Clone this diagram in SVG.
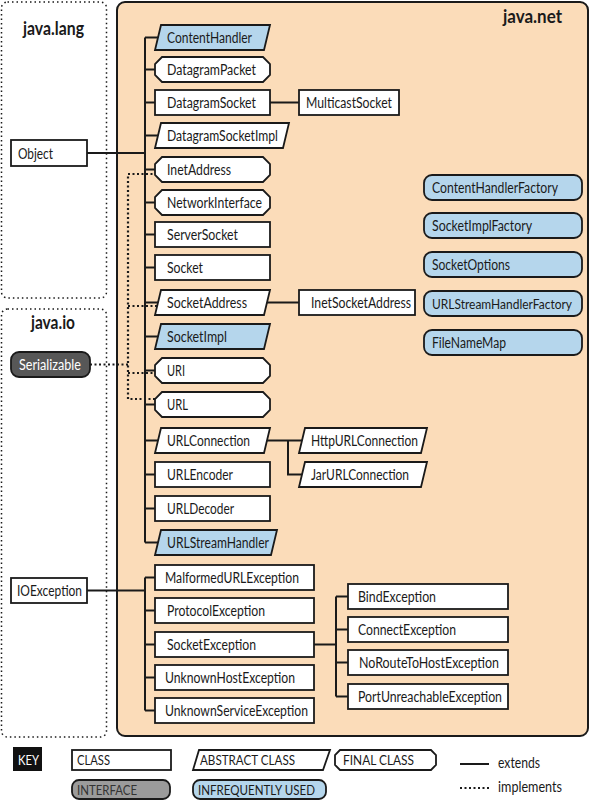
<svg xmlns="http://www.w3.org/2000/svg" width="591" height="800" viewBox="0 0 591 800">
<style>
.n{fill:#fff;stroke:#1a1a1a;stroke-width:1.8}
.b{fill:#b5d6ec;stroke:#1a1a1a;stroke-width:1.8}
.t{font-family:Lato,"Liberation Sans",sans-serif;font-size:14.5px;fill:#1a1a1a}
.k{font-family:Lato,"Liberation Sans",sans-serif;font-size:13.5px;fill:#1a1a1a}
.h{font-family:Lato,"Liberation Sans",sans-serif;font-size:18px;font-weight:bold;fill:#1a1a1a}
.ext{stroke:#1a1a1a;stroke-width:2;fill:none}
.impl{stroke:#1a1a1a;stroke-width:2.2;stroke-dasharray:2 2.5;fill:none}
.pkg{fill:none;stroke:#1a1a1a;stroke-width:1.5;stroke-dasharray:1.5 3}
</style>
<!-- packages -->
<rect class="pkg" x="1.5" y="2" width="105" height="296" rx="6"/>
<rect class="pkg" x="1.5" y="309" width="105" height="428" rx="6"/>
<rect x="117" y="2" width="471" height="734" rx="8" fill="#fbdcb9" stroke="#1a1a1a" stroke-width="2"/>
<text class="h" x="23" y="35" textLength="61" lengthAdjust="spacingAndGlyphs">java.lang</text>
<text class="h" x="31" y="329" textLength="44" lengthAdjust="spacingAndGlyphs">java.io</text>
<text class="h" x="503" y="23" textLength="59" lengthAdjust="spacingAndGlyphs">java.net</text>

<g id="connectors">
<path class="ext" d="M87,153 H145 M145,37.5 V542.5 M145,37.5 H160 M145,69.5 H160 M145,102.5 H160 M145,135.5 H160 M145,169.5 H160 M145,202.5 H160 M145,234.5 H160 M145,267.5 H160 M145,302.5 H160 M145,336.5 H160 M145,370.5 H160 M145,404.5 H160 M145,440.5 H160 M145,474.5 H160 M145,508.5 H160 M145,542.5 H160"/>
<path class="ext" d="M268,102.5 H301 M266,302.5 H301 M266,440.5 H304 M288,440.5 V474.5 H304"/>
<path class="ext" d="M87,590.5 H145 M145,577.5 V710.5 M145,577.5 H160 M145,610.5 H160 M145,644.5 H160 M145,677.5 H160 M145,710.5 H160"/>
<path class="ext" d="M312,644.5 H336 M336,596.5 V696.5 M336,596.5 H350 M336,629.5 H350 M336,662.5 H350 M336,696.5 H350"/>
<path class="impl" d="M90,364.5 H128 M157,174 H128 V399 H157 M128,306 H157 M128,373 H157"/>
</g>

<g id="Object"><rect class="n" x="11" y="140" width="76" height="26"/><text class="t" x="18" y="158.5" textLength="35" lengthAdjust="spacingAndGlyphs">Object</text></g>
<g id="IOException"><rect class="n" x="11" y="578" width="76" height="25"/><text class="t" x="17" y="596" textLength="65" lengthAdjust="spacingAndGlyphs">IOException</text></g>
<g id="Serializable"><rect x="11" y="352" width="79" height="25" rx="8" fill="#575757" stroke="#1a1a1a" stroke-width="1.8"/><text class="t" x="19" y="370" textLength="62" lengthAdjust="spacingAndGlyphs" style="fill:#fff">Serializable</text></g>

<g id="ContentHandler"><polygon class="b" points="161,25 270,25 264,50 155,50"/><text class="t" x="167" y="43" textLength="85" lengthAdjust="spacingAndGlyphs">ContentHandler</text></g>
<g id="DatagramPacket"><polygon class="n" points="162,57 263,57 270,64 270,75 263,82 162,82 155,75 155,64"/><text class="t" x="167" y="75" textLength="89" lengthAdjust="spacingAndGlyphs">DatagramPacket</text></g>
<g id="DatagramSocket"><rect class="n" x="155" y="90" width="115" height="25"/><text class="t" x="167" y="108" textLength="89" lengthAdjust="spacingAndGlyphs">DatagramSocket</text></g>
<g id="DatagramSocketImpl"><polygon class="n" points="161,123 289,123 283,148 155,148"/><text class="t" x="167" y="141" textLength="111" lengthAdjust="spacingAndGlyphs">DatagramSocketImpl</text></g>
<g id="InetAddress"><polygon class="n" points="162,157 263,157 270,164 270,175 263,182 162,182 155,175 155,164"/><text class="t" x="167" y="175" textLength="64" lengthAdjust="spacingAndGlyphs">InetAddress</text></g>
<g id="NetworkInterface"><polygon class="n" points="162,190 263,190 270,197 270,208 263,215 162,215 155,208 155,197"/><text class="t" x="167" y="208" textLength="95" lengthAdjust="spacingAndGlyphs">NetworkInterface</text></g>
<g id="ServerSocket"><rect class="n" x="155" y="222" width="115" height="25"/><text class="t" x="167" y="240" textLength="71" lengthAdjust="spacingAndGlyphs">ServerSocket</text></g>
<g id="Socket"><rect class="n" x="155" y="255" width="115" height="25"/><text class="t" x="167" y="273" textLength="36" lengthAdjust="spacingAndGlyphs">Socket</text></g>
<g id="SocketAddress"><polygon class="n" points="161,290 270,290 264,315 155,315"/><text class="t" x="167" y="308" textLength="80" lengthAdjust="spacingAndGlyphs">SocketAddress</text></g>
<g id="SocketImpl"><polygon class="b" points="161,324 270,324 264,349 155,349"/><text class="t" x="167" y="342" textLength="60" lengthAdjust="spacingAndGlyphs">SocketImpl</text></g>
<g id="URI"><polygon class="n" points="162,358 263,358 270,365 270,376 263,383 162,383 155,376 155,365"/><text class="t" x="167" y="376" textLength="18" lengthAdjust="spacingAndGlyphs">URI</text></g>
<g id="URL"><polygon class="n" points="162,392 263,392 270,399 270,410 263,417 162,417 155,410 155,399"/><text class="t" x="167" y="410" textLength="21" lengthAdjust="spacingAndGlyphs">URL</text></g>
<g id="URLConnection"><polygon class="n" points="161,428 270,428 264,453 155,453"/><text class="t" x="167" y="446" textLength="83" lengthAdjust="spacingAndGlyphs">URLConnection</text></g>
<g id="URLEncoder"><rect class="n" x="155" y="462" width="115" height="25"/><text class="t" x="167" y="480" textLength="66" lengthAdjust="spacingAndGlyphs">URLEncoder</text></g>
<g id="URLDecoder"><rect class="n" x="155" y="496" width="115" height="25"/><text class="t" x="167" y="514" textLength="67" lengthAdjust="spacingAndGlyphs">URLDecoder</text></g>
<g id="URLStreamHandler"><polygon class="b" points="161,530 277,530 271,555 155,555"/><text class="t" x="167" y="548" textLength="102" lengthAdjust="spacingAndGlyphs">URLStreamHandler</text></g>

<g id="MulticastSocket"><rect class="n" x="299" y="90" width="100" height="25"/><text class="t" x="306" y="108" textLength="86" lengthAdjust="spacingAndGlyphs">MulticastSocket</text></g>
<g id="InetSocketAddress"><rect class="n" x="299" y="290" width="116" height="25"/><text class="t" x="311" y="308" textLength="100" lengthAdjust="spacingAndGlyphs">InetSocketAddress</text></g>
<g id="HttpURLConnection"><polygon class="n" points="305,428 427,428 421,453 299,453"/><text class="t" x="311" y="446" textLength="107" lengthAdjust="spacingAndGlyphs">HttpURLConnection</text></g>
<g id="JarURLConnection"><polygon class="n" points="305,462 427,462 421,487 299,487"/><text class="t" x="311" y="480" textLength="98" lengthAdjust="spacingAndGlyphs">JarURLConnection</text></g>

<g id="ContentHandlerFactory"><rect class="b" x="424" y="175" width="158" height="25" rx="8"/><text class="t" x="432" y="193" textLength="126" lengthAdjust="spacingAndGlyphs">ContentHandlerFactory</text></g>
<g id="SocketImplFactory"><rect class="b" x="424" y="213" width="158" height="25" rx="8"/><text class="t" x="432" y="231" textLength="100" lengthAdjust="spacingAndGlyphs">SocketImplFactory</text></g>
<g id="SocketOptions"><rect class="b" x="424" y="252" width="158" height="25" rx="8"/><text class="t" x="432" y="270" textLength="78" lengthAdjust="spacingAndGlyphs">SocketOptions</text></g>
<g id="URLStreamHandlerFactory"><rect class="b" x="424" y="291" width="158" height="25" rx="8"/><text class="t" x="432" y="308.5" textLength="140" lengthAdjust="spacingAndGlyphs" style="font-size:12.5px">URLStreamHandlerFactory</text></g>
<g id="FileNameMap"><rect class="b" x="424" y="330" width="158" height="25" rx="8"/><text class="t" x="432" y="348" textLength="74" lengthAdjust="spacingAndGlyphs">FileNameMap</text></g>

<g id="MalformedURLException"><rect class="n" x="155" y="565" width="159" height="25"/><text class="t" x="165" y="583" textLength="134" lengthAdjust="spacingAndGlyphs">MalformedURLException</text></g>
<g id="ProtocolException"><rect class="n" x="155" y="598" width="159" height="25"/><text class="t" x="167" y="616" textLength="98" lengthAdjust="spacingAndGlyphs">ProtocolException</text></g>
<g id="SocketException"><rect class="n" x="155" y="632" width="159" height="25"/><text class="t" x="167" y="650" textLength="89" lengthAdjust="spacingAndGlyphs">SocketException</text></g>
<g id="UnknownHostException"><rect class="n" x="155" y="665" width="159" height="25"/><text class="t" x="165" y="683" textLength="130" lengthAdjust="spacingAndGlyphs">UnknownHostException</text></g>
<g id="UnknownServiceException"><rect class="n" x="155" y="698" width="159" height="25"/><text class="t" x="165" y="716" textLength="143" lengthAdjust="spacingAndGlyphs">UnknownServiceException</text></g>

<g id="BindException"><rect class="n" x="348" y="584" width="160" height="25"/><text class="t" x="358" y="602" textLength="78" lengthAdjust="spacingAndGlyphs">BindException</text></g>
<g id="ConnectException"><rect class="n" x="348" y="617" width="160" height="25"/><text class="t" x="358" y="635" textLength="98" lengthAdjust="spacingAndGlyphs">ConnectException</text></g>
<g id="NoRouteToHostException"><rect class="n" x="348" y="650" width="160" height="25"/><text class="t" x="359" y="668" textLength="140" lengthAdjust="spacingAndGlyphs">NoRouteToHostException</text></g>
<g id="PortUnreachableException"><rect class="n" x="348" y="684" width="160" height="25"/><text class="t" x="358" y="702" textLength="144" lengthAdjust="spacingAndGlyphs">PortUnreachableException</text></g>

<g id="key">
<rect x="13" y="747" width="29" height="24" fill="#111"/>
<text class="k" x="18" y="764.5" textLength="21" lengthAdjust="spacingAndGlyphs" style="fill:#fff">KEY</text>
<rect class="n" x="72" y="750" width="99" height="20"/><text class="k" x="77" y="765" textLength="33" lengthAdjust="spacingAndGlyphs">CLASS</text>
<polygon class="n" points="199,750 330,750 323,770 193,770"/><text class="k" x="200" y="765" textLength="95" lengthAdjust="spacingAndGlyphs">ABSTRACT CLASS</text>
<polygon class="n" points="340,750 431,750 436,755 436,765 431,770 340,770 335,765 335,755"/><text class="k" x="343" y="765" textLength="71" lengthAdjust="spacingAndGlyphs">FINAL CLASS</text>
<rect x="72" y="780" width="98" height="19" rx="7" fill="#9b9b9b" stroke="#1a1a1a" stroke-width="1.8"/><text class="k" x="77" y="795" textLength="60" lengthAdjust="spacingAndGlyphs" style="fill:#333">INTERFACE</text>
<rect class="b" x="193" y="780" width="133" height="19" rx="7"/><text class="k" x="198" y="795" textLength="117" lengthAdjust="spacingAndGlyphs">INFREQUENTLY USED</text>
<path class="ext" d="M460,764 H489"/><text class="t" x="498" y="768" textLength="42" lengthAdjust="spacingAndGlyphs">extends</text>
<path class="impl" d="M460,788 H490"/><text class="t" x="498" y="792" textLength="64" lengthAdjust="spacingAndGlyphs">implements</text>
</g>
</svg>
